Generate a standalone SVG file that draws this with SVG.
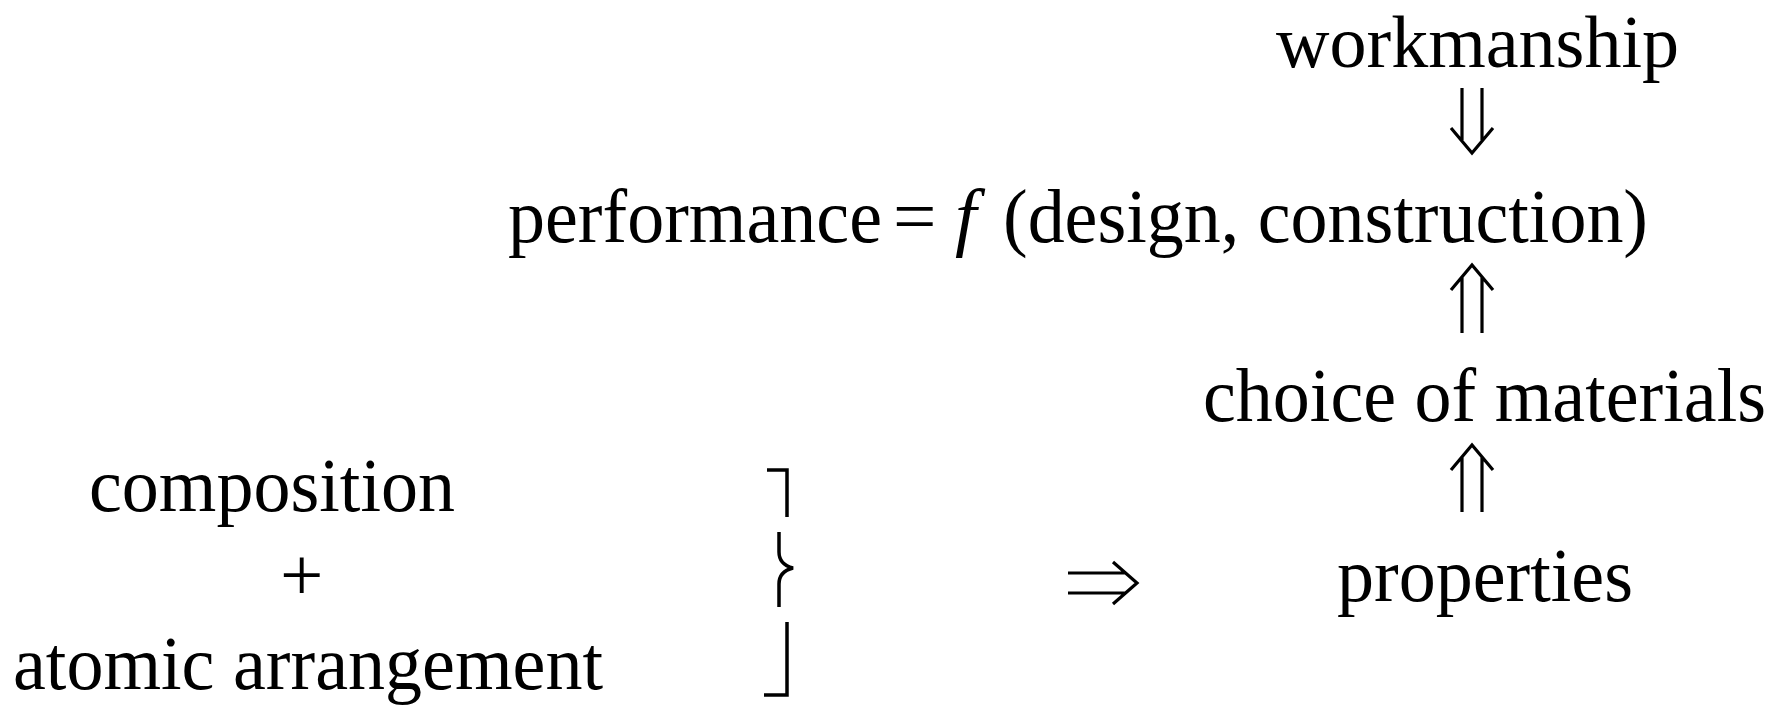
<svg xmlns="http://www.w3.org/2000/svg" width="1790" height="706" viewBox="0 0 1790 706">
<style>
text{font-family:"Liberation Serif","Times New Roman",serif;font-size:77px;fill:#000}
.it{font-style:italic}
.ln{fill:none;stroke:#000;stroke-width:3.2}
.br{fill:none;stroke:#000;stroke-width:3.5}
</style>
<rect width="1790" height="706" fill="#fff"/>
<g id="workmanship"><text x="1276" y="67" style="font-size:75px" textLength="403" lengthAdjust="spacingAndGlyphs">workmanship</text></g>
<g id="performance"><text y="242"><tspan x="508" textLength="374" lengthAdjust="spacingAndGlyphs">performance</tspan><tspan x="893">=</tspan><tspan x="955" class="it">f</tspan><tspan x="1003" textLength="645" lengthAdjust="spacingAndGlyphs">(design, construction)</tspan></text></g>
<g id="choice"><text x="1203" y="421" textLength="563" lengthAdjust="spacingAndGlyphs">choice of materials</text></g>
<g id="properties"><text x="1337" y="601" textLength="296" lengthAdjust="spacingAndGlyphs">properties</text></g>
<g id="composition"><text x="89" y="511" textLength="366" lengthAdjust="spacingAndGlyphs">composition</text><text x="280" y="600">+</text><text x="13" y="689" textLength="590" lengthAdjust="spacingAndGlyphs">atomic arrangement</text>
<path class="br" d="M767,470 H787 V517"/>
<path class="br" d="M779,532 V552 C779,562 785,566 793,568 C785,570 779,574 779,584 V607"/>
<path class="br" d="M787,622 V695 H764"/>
</g>
<g id="connectors">
<path class="ln" d="M1462,88 V140 M1482,88 V140 M1451,128 L1472,153 L1493,128"/>
<path class="ln" d="M1462,333 V277 M1482,333 V277 M1451,290 L1472,265 L1493,290"/>
<path class="ln" d="M1462,512 V457 M1482,512 V457 M1451,470 L1472,445 L1493,470"/>
<path class="ln" d="M1068,573 H1126 M1068,593 H1126 M1113,562 L1137,583 L1113,604"/>
</g>
</svg>
